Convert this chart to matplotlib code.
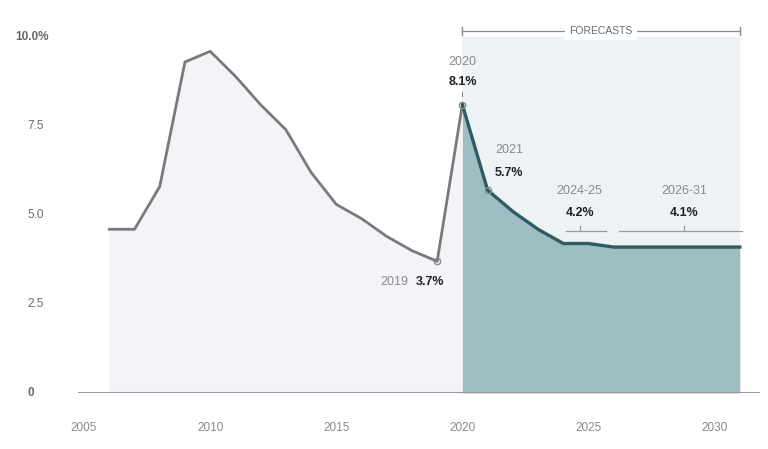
import numpy as np
import matplotlib.pyplot as plt

# Unemployment rate, annual averages (%)
hist_years = [2006, 2007, 2008, 2009, 2010, 2011, 2012, 2013, 2014, 2015, 2016, 2017, 2018, 2019, 2020]
hist_rate = [4.6, 4.6, 5.8, 9.3, 9.6, 8.9, 8.1, 7.4, 6.2, 5.3, 4.9, 4.4, 4.0, 3.7, 8.1]

fc_years = [2020, 2021, 2022, 2023, 2024, 2025, 2026, 2027, 2028, 2029, 2030, 2031]
fc_rate = [8.1, 5.7, 5.1, 4.6, 4.2, 4.2, 4.1, 4.1, 4.1, 4.1, 4.1, 4.1]

x_ticks = [2005, 2010, 2015, 2020, 2025, 2030]
y_ticks = [0, 2.5, 5.0, 7.5, 10.0]
y_labels = ['0', '2.5', '5.0', '7.5', '10.0%']

plt.rcParams['font.family'] = ['Liberation Sans', 'DejaVu Sans']

fig = plt.figure(figsize=(7.68, 4.49), dpi=100)
ax = fig.add_axes([78 / 768, 1 - 393 / 449, 682 / 768, 373 / 449])
ax.set_xlim(2004.76, 2031.8)
ax.set_ylim(0, 10.48)

# history: pale area under the line
ax.fill_between(hist_years, hist_rate, 0, color='#f3f4f7', lw=0, zorder=1)
ax.plot(hist_years, hist_rate, color='#7a7a7a', lw=2, solid_joinstyle='round', zorder=3)

# forecast panel
ax.fill_between([fc_years[0], fc_years[-1]], 10.0, 0, color='#edf3f4', lw=0, zorder=0)
ax.fill_between(fc_years, fc_rate, 0, color='#9fbec4', lw=0, zorder=2)
ax.plot(fc_years, fc_rate, color='#2f5b63', lw=2.4, solid_joinstyle='round', zorder=4)

# baseline
ax.axhline(0, color='#9a9a9a', lw=1.5, zorder=5)

# point markers
for yr, v in [(2019, 3.7), (2020, 8.1), (2021, 5.7)]:
    ax.plot(yr, v, 'o', ms=4.5, mfc='none', mec='#8a8a8a', mew=1, zorder=6)

lab = dict(color='#8a8a8a', fontsize=9, ha='center', va='center')
val = dict(color='#222222', fontsize=9, fontweight='bold', ha='center', va='center')

ax.text(2020, 9.3, '2020', **lab)
ax.text(2020, 8.74, '8.1%', **val)
ax.plot([2020, 2020], [8.35, 8.45], color='#8a8a8a', lw=0.8)

ax.text(2021.85, 6.83, '2021', **lab)
ax.text(2021.85, 6.18, '5.7%', **val)

ax.text(2017.85, 3.12, '2019', color='#8a8a8a', fontsize=9, ha='right', va='center')
ax.text(2018.15, 3.12, '3.7%', color='#222222', fontsize=9, fontweight='bold', ha='left', va='center')

# range labels with brackets
for txt, v, x0, x1, xc in [('2024-25', '4.2%', 2024.1, 2025.7, 2024.65),
                           ('2026-31', '4.1%', 2026.2, 2031.1, 2028.8)]:
    ax.text(xc, 5.67, txt, **lab)
    ax.text(xc, 5.06, v, **val)
    ax.plot([x0, x1], [4.55, 4.55], color='#9a9a9a', lw=0.9, zorder=6)
    ax.plot([xc, xc], [4.55, 4.7], color='#9a9a9a', lw=0.9, zorder=6)

# forecast bracket on top
ax.plot([fc_years[0], fc_years[-1]], [10.17, 10.17], color='#8a8a8a', lw=0.9, clip_on=False)
for xe in [fc_years[0], fc_years[-1]]:
    ax.plot([xe, xe], [10.05, 10.29], color='#8a8a8a', lw=1, clip_on=False)
ax.text((fc_years[0] + fc_years[-1]) / 2, 10.17, 'FORECASTS', color='#6a6a6a', fontsize=7.5,
        ha='center', va='center', bbox=dict(fc='white', ec='none', pad=3), clip_on=False)

# axes cosmetics
for s in ax.spines.values():
    s.set_visible(False)
ax.set_facecolor('white')
ax.set_xticks(x_ticks)
ax.set_xticklabels([str(x) for x in x_ticks], color='#8a8a8a', fontsize=8.5)
ax.tick_params(axis='x', length=0, pad=21)
ax.set_yticks([])
ytrans = ax.get_yaxis_transform()
for v, s in zip(y_ticks, y_labels):
    xpos = -0.092 if s.endswith('%') else -0.0745
    ax.text(xpos, v, s, transform=ytrans, ha='left', va='center', color='#6a6a6a',
            fontsize=8.5, fontweight='bold' if v in (0, 10.0) else 'normal', clip_on=False)

fig.savefig('out.png', dpi=100)
